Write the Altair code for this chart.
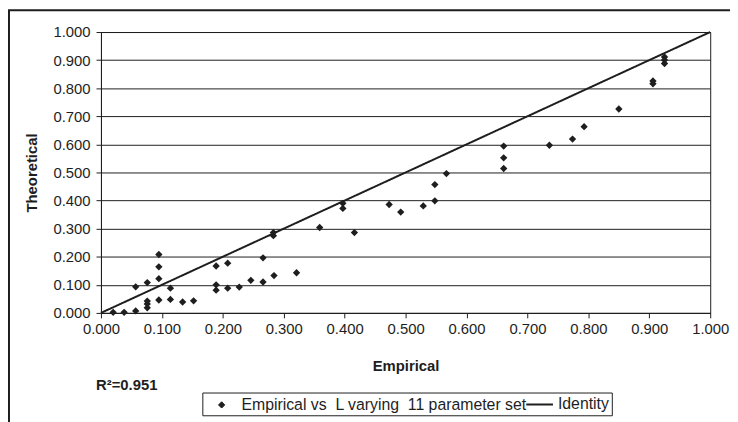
import altair as alt
import pandas as pd

# ---- data ----
empirical = [0.020, 0.038, 0.057, 0.057, 0.076, 0.076, 0.076, 0.076, 0.095, 0.095,
             0.095, 0.095, 0.114, 0.114, 0.134, 0.152, 0.189, 0.189, 0.189, 0.208,
             0.208, 0.227, 0.246, 0.266, 0.266, 0.284, 0.283, 0.283, 0.321, 0.359,
             0.397, 0.397, 0.416, 0.473, 0.492, 0.529, 0.548, 0.548, 0.567, 0.661,
             0.661, 0.661, 0.736, 0.774, 0.793, 0.850, 0.906, 0.906, 0.925, 0.925,
             0.925]
theoretical = [0.002, 0.002, 0.007, 0.093, 0.018, 0.032, 0.042, 0.108, 0.046, 0.122,
               0.164, 0.208, 0.048, 0.088, 0.039, 0.043, 0.081, 0.100, 0.167, 0.088,
               0.177, 0.092, 0.116, 0.110, 0.196, 0.133, 0.275, 0.286, 0.143, 0.304,
               0.390, 0.372, 0.286, 0.386, 0.359, 0.381, 0.399, 0.457, 0.496, 0.594,
               0.552, 0.514, 0.597, 0.619, 0.663, 0.726, 0.826, 0.816, 0.911, 0.900,
               0.888]
identity_x = [0.0, 1.0]
identity_y = [0.0, 1.0]
series_points = "Empirical vs\u00a0 L varying\u00a0 11 parameter set"
series_line = "Identity"
r2_label = ["R²=0.951"]
ticks = [round(i * 0.1, 1) for i in range(11)]

FONT = "Liberation Sans"
INK = "#1e1e1e"

pts = pd.DataFrame({"Empirical": empirical, "Theoretical": theoretical,
                    "series": [series_points] * len(empirical)})
ident = pd.DataFrame({"Empirical": identity_x, "Theoretical": identity_y,
                      "series": [series_line] * len(identity_x)})
r2 = pd.DataFrame({"t": r2_label})
one = pd.DataFrame({"a": [0]})

xscale = alt.Scale(domain=[0, 1], nice=False, zero=True)
yscale = alt.Scale(domain=[0, 1], nice=False, zero=True)

xaxis = alt.Axis(values=ticks, format=".3f", grid=False, tickSize=5, labelPadding=4,
                 labelOverlap=False, labelFlush=False,
                 title="Empirical", titlePadding=22, domainColor=INK, tickColor=INK)
yaxis = alt.Axis(values=ticks, format=".3f", grid=True, gridColor=INK, gridWidth=1,
                 labelOverlap=False, labelFlush=False,
                 tickSize=5, labelPadding=6, title="Theoretical", titlePadding=14,
                 domainColor=INK, tickColor=INK)

X = alt.X("Empirical:Q", scale=xscale, axis=xaxis)
Y = alt.Y("Theoretical:Q", scale=yscale, axis=yaxis)

legend_pts = alt.Legend(
    orient="none", legendX=114, legendY=369, direction="horizontal", title=None,
    padding=0, labelFont=FONT, labelFontSize=16, labelColor=INK, labelLimit=0,
    symbolType="diamond", symbolSize=40, symbolFillColor=INK, symbolStrokeColor=INK,
    symbolStrokeWidth=1, labelOffset=12,
)
legend_line = alt.Legend(
    orient="none", legendX=429, legendY=362, direction="horizontal", title=None,
    padding=0, labelFont=FONT, labelFontSize=16, labelColor=INK, labelLimit=0,
    symbolType="stroke", symbolSize=729, symbolStrokeColor=INK, symbolStrokeWidth=2,
    labelOffset=4,
)

frame_layer = alt.Chart(one).mark_rect(fillOpacity=0, stroke=INK, strokeWidth=2).encode(
    x=alt.value(-93), x2=alt.value(700), y=alt.value(-22), y2=alt.value(440)
)
legend_box = alt.Chart(one).mark_rect(fillOpacity=0, stroke=INK, strokeWidth=1).encode(
    x=alt.value(103), x2=alt.value(517), y=alt.value(365), y2=alt.value(388)
)

line_layer = alt.Chart(ident).mark_line(strokeWidth=2, color=INK).encode(
    x=X, y=Y,
    strokeDash=alt.StrokeDash("series:N",
                              scale=alt.Scale(domain=[series_line], range=[[1, 0]]),
                              legend=legend_line),
)

point_layer = alt.Chart(pts).mark_point(shape="diamond", filled=True, size=55, opacity=1).encode(
    x=X, y=Y,
    color=alt.Color("series:N", scale=alt.Scale(domain=[series_points], range=[INK]),
                    legend=legend_pts),
)

r2_layer = alt.Chart(r2).mark_text(align="left", baseline="middle", font=FONT, fontSize=15,
                                   fontWeight="bold", color=INK).encode(
    x=alt.value(-5), y=alt.value(357), text="t:N"
)

chart = alt.layer(frame_layer, legend_box, line_layer, point_layer, r2_layer).properties(
    width=616, height=284,
    autosize=alt.AutoSizeParams(type="none"),
    padding={"left": 94, "top": 22, "right": 20, "bottom": 108},
    background="white",
).configure_view(stroke=INK, strokeWidth=1).configure_axis(
    labelFont=FONT, labelFontSize=15, labelColor=INK,
    titleFont=FONT, titleFontSize=15, titleFontWeight="bold", titleColor=INK,
)

chart.save("out.html", embed_options={"renderer": "svg", "actions": False})
